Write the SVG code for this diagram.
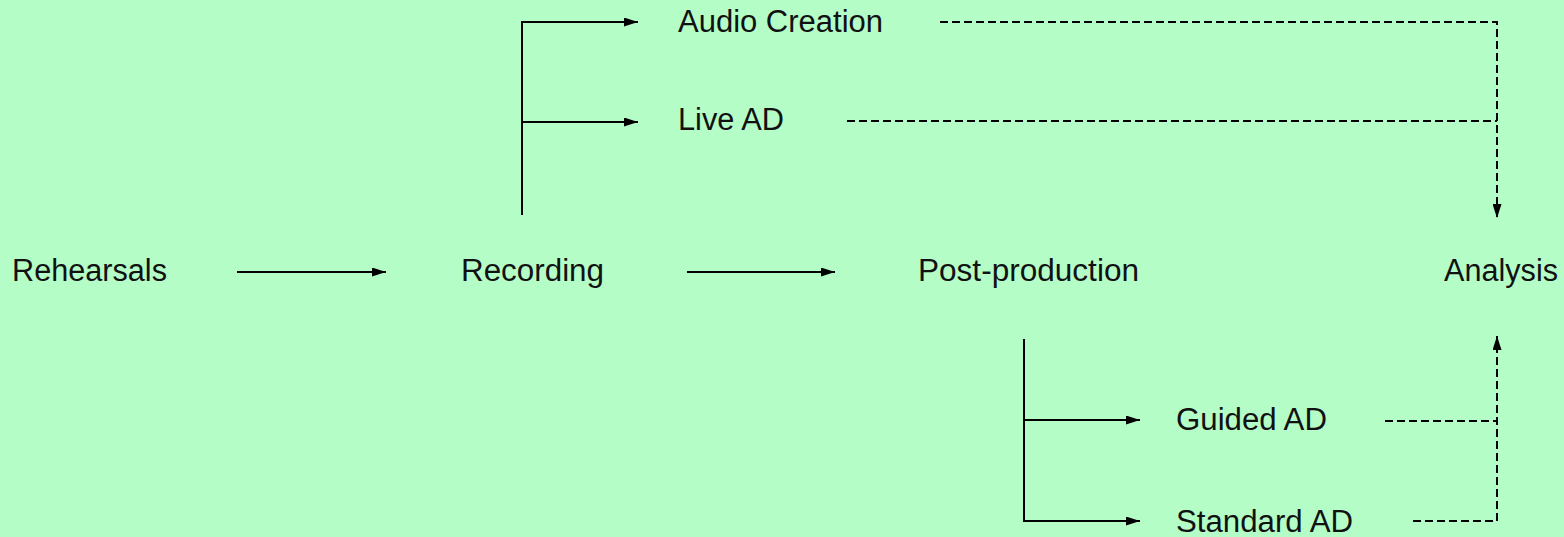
<svg xmlns="http://www.w3.org/2000/svg" width="1564" height="537" viewBox="0 0 1564 537">
  <defs>
    <marker id="arrow" viewBox="0 0 14 9" refX="14" refY="4.5" markerWidth="14" markerHeight="9" markerUnits="userSpaceOnUse" orient="auto">
      <path d="M0,0 L14,4.5 L0,9 Z" fill="#000"/>
    </marker>
    <style>
      .label { font-family: "Liberation Sans", Arial, sans-serif; font-size: 31px; fill: #111; }
      .flow { fill: none; stroke: #000; stroke-width: 2; }
      .dash { fill: none; stroke: #000; stroke-width: 2; stroke-dasharray: 8 4; }
    </style>
  </defs>
  <rect width="1564" height="537" fill="#b5fdc6"/>

  <g id="connectors">
    <!-- main sequence -->
    <line class="flow" x1="237" y1="272" x2="386" y2="272" marker-end="url(#arrow)"/>
    <line class="flow" x1="687" y1="272" x2="835" y2="272" marker-end="url(#arrow)"/>
    <!-- recording branches -->
    <line class="flow" x1="522" y1="215" x2="522" y2="21"/>
    <line class="flow" x1="521" y1="22" x2="638" y2="22" marker-end="url(#arrow)"/>
    <line class="flow" x1="522" y1="122" x2="638" y2="122" marker-end="url(#arrow)"/>
    <!-- post-production branches -->
    <line class="flow" x1="1024" y1="339" x2="1024" y2="522"/>
    <line class="flow" x1="1024" y1="420" x2="1140" y2="420" marker-end="url(#arrow)"/>
    <line class="flow" x1="1023" y1="521" x2="1140" y2="521" marker-end="url(#arrow)"/>
    <!-- feeds into analysis -->
    <path class="dash" d="M940,22 H1497 V218" marker-end="url(#arrow)"/>
    <line class="dash" x1="847" y1="121" x2="1497" y2="121"/>
    <path class="dash" d="M1413,521 H1497 V336" marker-end="url(#arrow)"/>
    <line class="dash" x1="1385" y1="421" x2="1497" y2="421"/>
  </g>

  <g id="rehearsals"><text class="label" x="12" y="281" textLength="155" lengthAdjust="spacingAndGlyphs">Rehearsals</text></g>
  <g id="recording"><text class="label" x="461" y="281" textLength="143" lengthAdjust="spacingAndGlyphs">Recording</text></g>
  <g id="post-production"><text class="label" x="918" y="281" textLength="221" lengthAdjust="spacingAndGlyphs">Post-production</text></g>
  <g id="analysis"><text class="label" x="1444" y="281" textLength="114" lengthAdjust="spacingAndGlyphs">Analysis</text></g>
  <g id="audio-creation"><text class="label" x="678" y="32" textLength="205" lengthAdjust="spacingAndGlyphs">Audio Creation</text></g>
  <g id="live-ad"><text class="label" x="678" y="130" textLength="106" lengthAdjust="spacingAndGlyphs">Live AD</text></g>
  <g id="guided-ad"><text class="label" x="1176" y="430" textLength="151" lengthAdjust="spacingAndGlyphs">Guided AD</text></g>
  <g id="standard-ad"><text class="label" x="1176" y="532" textLength="177" lengthAdjust="spacingAndGlyphs">Standard AD</text></g>
</svg>
